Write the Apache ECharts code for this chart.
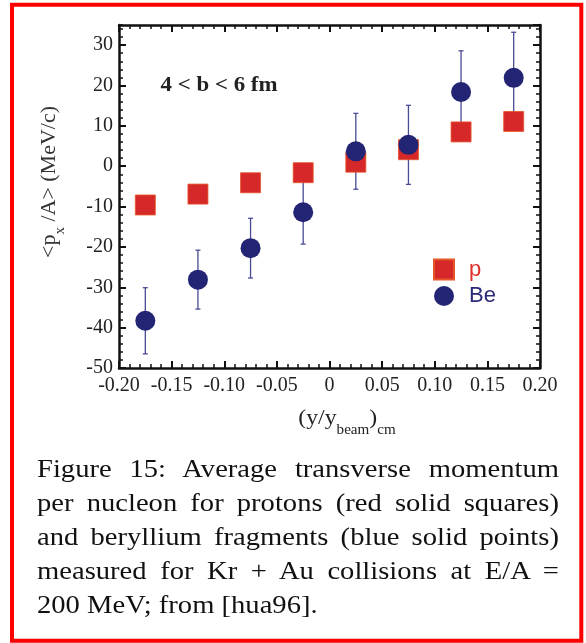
<!DOCTYPE html>
<html><head><meta charset="utf-8">
<script src="https://cdn.jsdelivr.net/npm/echarts@6/dist/echarts.min.js"></script>
<style>
html,body{margin:0;padding:0;background:#fff;}
#chart{position:absolute;left:0;top:0;width:586px;height:643px;}
#caption{position:absolute;left:37px;top:452px;width:474.5px;font-family:"Liberation Serif","Times New Roman",serif;font-size:26px;line-height:34px;color:#111;transform:scaleX(1.1);transform-origin:0 0;}
#caption div{text-align:justify;text-align-last:justify;}
#caption div.last{text-align:left;text-align-last:left;}
</style></head><body>
<div id="chart"></div>
<div id="caption"></div>
<script>
// ---- data ----
const xValues = [-0.175, -0.125, -0.075, -0.025, 0.025, 0.075, 0.125, 0.175];
const pValues = [-9.6, -6.9, -4.1, -1.6, 1.0, 4.1, 8.5, 11.1];
const beValues = [-38.3, -28.1, -20.3, -11.4, 3.7, 5.3, 18.4, 21.9];
const beErrors = [8.2, 7.3, 7.4, 7.9, 9.4, 9.8, 10.2, 11.3];
const xTickLabels = ['-0.20', '-0.15', '-0.10', '-0.05', '0', '0.05', '0.10', '0.15', '0.20'];
const yTickLabels = ['-50', '-40', '-30', '-20', '-10', '0', '10', '20', '30'];
const seriesNames = ['p', 'Be'];
const annotation = '4 < b < 6 fm';
const captionLines = [
  'Figure 15: Average transverse momentum',
  'per nucleon for protons (red solid squares)',
  'and beryllium fragments (blue solid points)',
  'measured for Kr + Au collisions at E/A =',
  '200 MeV; from [hua96].'
];

// caption (justified real text)
const cap = document.getElementById('caption');
captionLines.forEach((t, i) => {
  const d = document.createElement('div');
  d.textContent = t;
  if (i === captionLines.length - 1) d.className = 'last';
  cap.appendChild(d);
});

const serif = '"Liberation Serif","Times New Roman",serif';
const sans = '"Liberation Sans",Arial,sans-serif';
const frameColor = '#111';
const redFill = '#d62828', redEdge = '#e5562a';
const blue = '#232473', errColor = '#4a4a96';

function xAxisCfg(pos, showLabel) {
  return {
    type: 'value', position: pos, min: -0.2, max: 0.2, interval: 0.05,
    axisLine: { show: true, onZero: false, lineStyle: { color: frameColor, width: 2.5 } },
    axisTick: { show: true, inside: true, length: 7, lineStyle: { color: frameColor, width: 2 } },
    minorTick: { show: true, splitNumber: 5, length: 4, lineStyle: { color: frameColor, width: 1.5 } },
    splitLine: { show: false }, minorSplitLine: { show: false },
    axisLabel: {
      show: showLabel, margin: 8, fontFamily: serif, fontSize: 20, color: '#222',
      formatter: (v, i) => xTickLabels[i] !== undefined ? xTickLabels[i] : ''
    }
  };
}
function yAxisCfg(pos, showLabel, interval, len, showLine) {
  return {
    type: 'value', position: pos, min: -50, max: 35, interval: interval, offset: 0,
    axisLine: { show: showLine, onZero: false, lineStyle: { color: frameColor, width: 2.5 } },
    axisTick: { show: true, inside: true, length: len, lineStyle: { color: frameColor, width: len > 5 ? 2 : 1.5 } },
    splitLine: { show: false },
    axisLabel: {
      show: showLabel, margin: 6, fontFamily: serif, fontSize: 20, color: '#222',
      showMaxLabel: false,
      formatter: (v, i) => yTickLabels[i] !== undefined ? yTickLabels[i] : ''
    }
  };
}

const chart = echarts.init(document.getElementById('chart'), null, { renderer: 'canvas' });
chart.setOption({
  backgroundColor: '#fff',
  animation: false,
  grid: { left: 119, right: 46, top: 25, bottom: 275, containLabel: false },
  xAxis: [xAxisCfg('bottom', true), xAxisCfg('top', false)],
  yAxis: [
    yAxisCfg('left', true, 10, 7, true),
    yAxisCfg('right', false, 10, 7, true),
    yAxisCfg('left', false, 2, 4, false),
    yAxisCfg('right', false, 2, 4, false)
  ],
  legend: {
    orient: 'vertical', left: 433, top: 258.6, padding: 0,
    itemWidth: 20, itemHeight: 20, itemGap: 4.4,
    textStyle: { fontFamily: sans, fontSize: 22, lineHeight: 22, padding: [0, 0, 0, 10] },
    data: [
      { name: seriesNames[0], textStyle: { color: '#e0302a' } },
      { name: seriesNames[1], textStyle: { color: '#2a2a78' } }
    ]
  },
  graphic: [
    { type: 'rect', z: 100, silent: true,
      shape: { x: 12, y: 4.7, width: 569.3, height: 636 },
      style: { fill: 'none', stroke: '#ff0000', lineWidth: 4 } },
    { type: 'text', x: 219, y: 85, z: 100, scaleX: 1.04,
      style: { text: annotation, fontFamily: serif, fontSize: 22, fontWeight: 'bold', fill: '#222',
        align: 'center', verticalAlign: 'middle' } },
    { type: 'text', x: 347, y: 418.5, z: 100, scaleX: 1.08,
      style: { text: '{m|(y/y}{s|beam}{m|)}{s|cm}', align: 'center', verticalAlign: 'middle',
        rich: {
          m: { fontFamily: serif, fontSize: 22, lineHeight: 38, fill: '#222', verticalAlign: 'middle' },
          s: { fontFamily: serif, fontSize: 14, lineHeight: 14, fill: '#222', verticalAlign: 'bottom' }
        } } },
    { type: 'text', x: 49, y: 182, z: 100, rotation: Math.PI / 2,
      style: { text: '{m|<p}{s|x}{m| /A> (MeV/c)}', align: 'center', verticalAlign: 'middle',
        rich: {
          m: { fontFamily: serif, fontSize: 22, lineHeight: 38, fill: '#333', verticalAlign: 'middle' },
          s: { fontFamily: serif, fontSize: 15, lineHeight: 15, fill: '#333', verticalAlign: 'bottom' }
        } } }
  ],
  series: [
    {
      type: 'custom', name: 'BeErr', xAxisIndex: 0, yAxisIndex: 0, z: 1, silent: true,
      data: xValues.map((x, i) => [x, beValues[i] - beErrors[i], beValues[i] + beErrors[i]]),
      encode: { x: 0, y: [1, 2] },
      renderItem: function (params, api) {
        const x = api.value(0), lo = api.value(1), hi = api.value(2);
        const a = api.coord([x, hi]), b = api.coord([x, lo]);
        const cw = 2.5;
        const st = { stroke: errColor, lineWidth: 1.3 };
        return { type: 'group', children: [
          { type: 'line', shape: { x1: a[0], y1: a[1], x2: b[0], y2: b[1] }, style: st },
          { type: 'line', shape: { x1: a[0] - cw, y1: a[1], x2: a[0] + cw, y2: a[1] }, style: st },
          { type: 'line', shape: { x1: b[0] - cw, y1: b[1], x2: b[0] + cw, y2: b[1] }, style: st }
        ] };
      }
    },
    {
      type: 'scatter', name: seriesNames[0], xAxisIndex: 0, yAxisIndex: 0, z: 2,
      symbol: 'rect', symbolSize: 20,
      itemStyle: { color: redFill, borderColor: redEdge, borderWidth: 0.8, opacity: 1 },
      data: xValues.map((x, i) => [x, pValues[i]])
    },
    {
      type: 'scatter', name: seriesNames[1], xAxisIndex: 0, yAxisIndex: 0, z: 3,
      symbol: 'circle', symbolSize: 20,
      itemStyle: { color: blue, opacity: 1 },
      data: xValues.map((x, i) => [x, beValues[i]])
    }
  ]
});
</script>
</body></html>
